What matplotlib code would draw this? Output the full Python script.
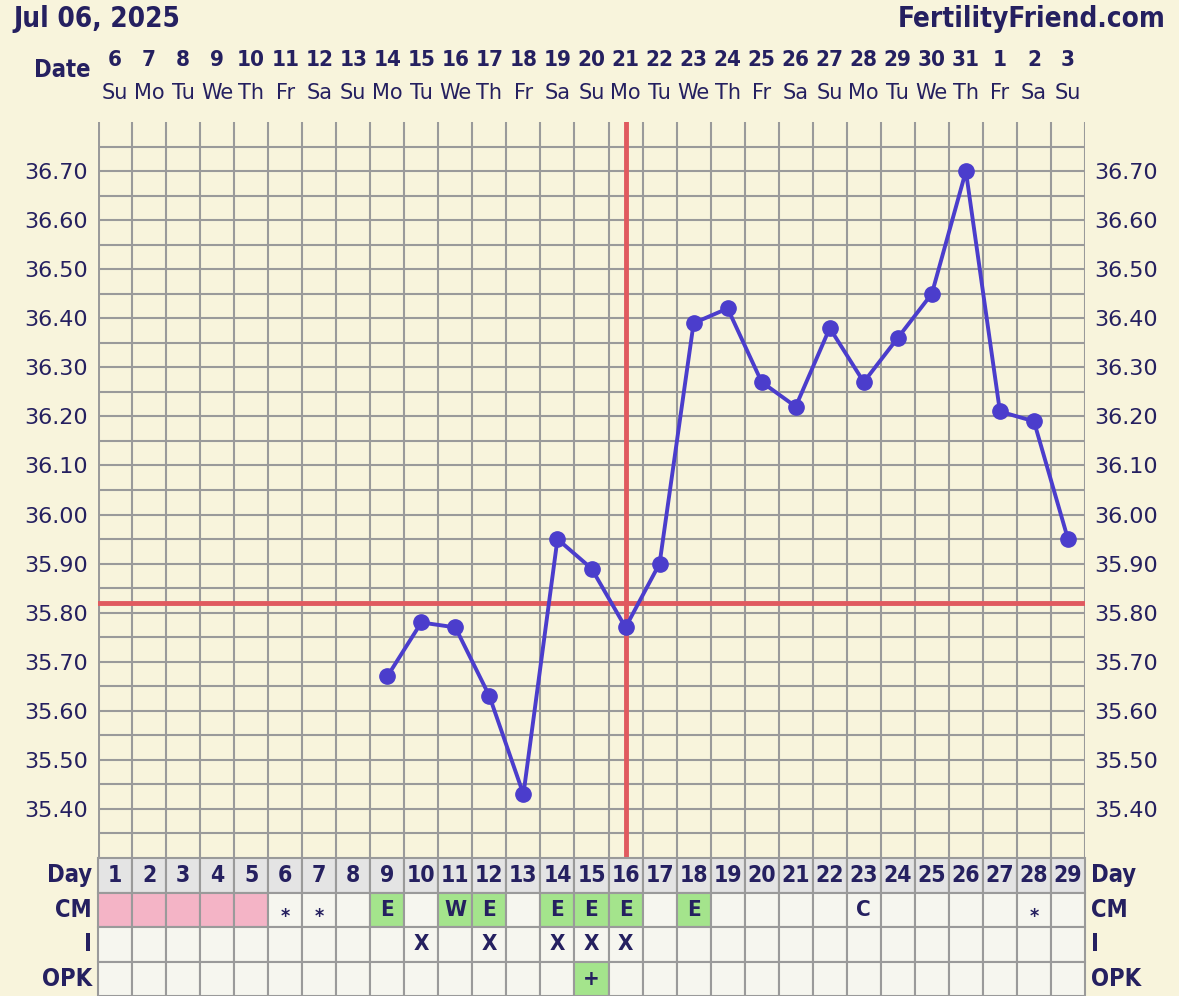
import numpy as np
import matplotlib
matplotlib.use("Agg")
import matplotlib.pyplot as plt
from matplotlib.patches import Rectangle
from matplotlib.transforms import blended_transform_factory

# chart data
cycle_days = list(range(1, 30))
dates = ["6", "7", "8", "9", "10", "11", "12", "13", "14", "15", "16", "17", "18", "19", "20",
         "21", "22", "23", "24", "25", "26", "27", "28", "29", "30", "31", "1", "2", "3"]
weekdays = ["Su", "Mo", "Tu", "We", "Th", "Fr", "Sa"] * 4 + ["Su"]
temps = [np.nan] * 8 + [35.67, 35.78, 35.77, 35.63, 35.43, 35.95, 35.89, 35.77, 35.90,
                        36.39, 36.42, 36.27, 36.22, 36.38, 36.27, 36.36, 36.45, 36.70,
                        36.21, 36.19, 35.95]
coverline = 35.82
ovulation_day = 16
y_labels = [round(35.4 + 0.1 * i, 2) for i in range(14)]

cm_marks = {6: "*", 7: "*", 9: "E", 11: "W", 12: "E", 14: "E", 15: "E", 16: "E", 18: "E",
            23: "C", 28: "*"}
cm_green = [9, 11, 12, 14, 15, 16, 18]
period_days = [1, 2, 3, 4, 5]
intercourse_days = [10, 12, 14, 15, 16]
opk_marks = {15: "+"}

BG = "#f8f4dc"
NAVY = "#252060"
GRID = "#9a9a9a"
LINE = "#4b3dcc"
RED = "#e05a5f"
PINK = "#f4b4c6"
GREEN = "#a4e48c"
CELL = "#f6f6ef"
DAYROW = "#e4e4e4"
BOLD = dict(fontweight="bold", fontstretch="condensed", color=NAVY)

W, H = 1179, 996
fig = plt.figure(figsize=(W / 100, H / 100), dpi=100, facecolor=BG)

left, right = 98 / W, 1085 / W
top_px, bot_px = 122, 858
ax = fig.add_axes([left, 1 - bot_px / H, right - left, (bot_px - top_px) / H])
ax.set_facecolor(BG)
ax.set_xlim(0.5, 29.5)
ax.set_ylim(35.30, 36.80)

# grid
for x in np.arange(0.5, 30.0, 1.0):
    ax.axvline(x, color=GRID, lw=2.2 if x == 0.5 else 1.5, zorder=1)
for y in np.arange(35.35, 36.76, 0.05):
    ax.axhline(y, color=GRID, lw=1.5, zorder=1)
for s in ax.spines.values():
    s.set_visible(False)

ax.set_xticks([])
ax.set_yticks(y_labels)
ax.set_yticklabels([f"{v:.2f}" for v in y_labels])
ax.tick_params(axis="y", length=0, labelsize=16, labelcolor=NAVY, pad=7,
               labelleft=True, labelright=True)

ax.axhline(coverline, color=RED, lw=3.5, zorder=3)
ax.axvline(ovulation_day, color=RED, lw=3.5, zorder=3)
ax.plot(cycle_days, temps, color=LINE, lw=2.8, marker="o", ms=11, zorder=4)

# header
trans = blended_transform_factory(ax.transData, fig.transFigure)
for d, dt, wd in zip(cycle_days, dates, weekdays):
    fig.text(d, 1 - 60 / H, dt, transform=trans, ha="center", va="center",
             fontsize=16, **BOLD)
    fig.text(d, 1 - 93 / H, wd, transform=trans, ha="center", va="center",
             fontsize=15, color=NAVY)
fig.text(91 / W, 1 - 70 / H, "Date", ha="right", va="center", fontsize=17, **BOLD)
fig.text(13 / W, 1 - 19 / H, "Jul 06, 2025", ha="left", va="center", fontsize=20, **BOLD)
fig.text(1166 / W, 1 - 19 / H, "FertilityFriend.com", ha="right", va="center",
         fontsize=20, **BOLD)

# table below the chart
tax = fig.add_axes([left, 0, right - left, 1 - bot_px / H])
tax.set_xlim(0.5, 29.5)
tax.set_ylim(0, 4)
tax.axis("off")
row_names = ["Day", "CM", "I", "OPK"]
for d in cycle_days:
    for r in range(4):
        y0 = 3 - r
        if r == 0:
            fc = DAYROW
        elif r == 1 and d in period_days:
            fc = PINK
        elif r == 1 and d in cm_green:
            fc = GREEN
        elif r == 3 and d in opk_marks:
            fc = GREEN
        else:
            fc = CELL
        tax.add_patch(Rectangle((d - 0.5, y0), 1, 1, facecolor=fc, edgecolor=GRID,
                                lw=1.5, clip_on=False))
    tax.text(d, 3.5, str(d), ha="center", va="center", fontsize=16.5, **BOLD)
    if d in cm_marks:
        m = cm_marks[d]
        if m == "*":
            tax.text(d, 2.3, m, ha="center", va="center", fontsize=14, **BOLD)
        else:
            tax.text(d, 2.5, m, ha="center", va="center", fontsize=16, **BOLD)
    if d in intercourse_days:
        tax.text(d, 1.5, "X", ha="center", va="center", fontsize=16, **BOLD)
    if d in opk_marks:
        tax.text(d, 0.5, opk_marks[d], ha="center", va="center", fontsize=16, **BOLD)

for r, name in enumerate(row_names):
    yc = 3.5 - r
    tax.text(0.33, yc, name, ha="right", va="center", fontsize=17, **BOLD)
    tax.text(29.68, yc, name, ha="left", va="center", fontsize=17, **BOLD)

fig.savefig("out.png", dpi=100, facecolor=BG)
